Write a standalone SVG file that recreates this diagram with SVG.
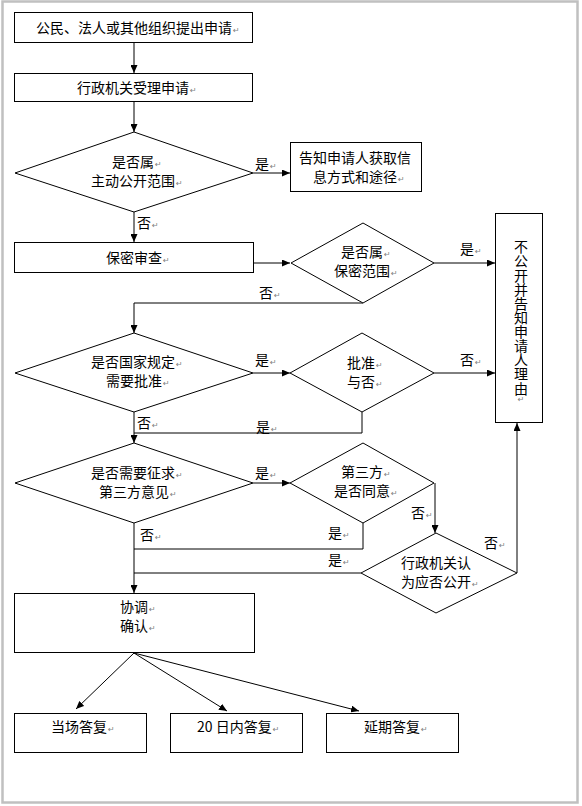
<svg xmlns="http://www.w3.org/2000/svg" width="582" height="806" viewBox="0 0 582 806">
<style>
.t{font-family:"Noto Sans CJK SC","Liberation Sans",sans-serif;font-size:14px;fill:#000}
.m{font-family:"DejaVu Sans",sans-serif;font-size:8px;fill:#808080}
.b{fill:#fff;stroke:#000;stroke-width:1}
.c{fill:none;stroke:#000;stroke-width:1}
.a{marker-end:url(#ah)}
.v{writing-mode:vertical-rl;text-orientation:upright;letter-spacing:0.13px}
</style>
<defs>
<marker id="ah" markerUnits="userSpaceOnUse" markerWidth="8" markerHeight="7" refX="8" refY="3.5" orient="auto">
<path d="M0,0 L8,3.5 L0,7 z" fill="#000"/>
</marker>
</defs>
<rect x="0" y="0" width="582" height="806" fill="#fff"/>
<rect x="2.5" y="1.5" width="575" height="801" fill="none" stroke="#c0c0c0" stroke-width="2.5"/>

<g id="connectors">
<line class="c a" x1="134" y1="42" x2="134" y2="73"/>
<line class="c a" x1="134" y1="102" x2="134" y2="132"/>
<line class="c a" x1="253" y1="173" x2="290" y2="173"/>
<line class="c a" x1="134" y1="212" x2="134" y2="242"/>
<line class="c a" x1="254" y1="263" x2="290" y2="263"/>
<line class="c a" x1="434" y1="263" x2="495" y2="263"/>
<polyline class="c a" points="363,303 134,303 134,333"/>
<line class="c a" x1="253" y1="373" x2="290" y2="373"/>
<line class="c a" x1="434" y1="373" x2="495" y2="373"/>
<polyline class="c" points="362,412 362,433 134,433"/>
<line class="c a" x1="134" y1="412" x2="134" y2="443"/>
<line class="c a" x1="253" y1="483" x2="290" y2="483"/>
<line class="c a" x1="435" y1="483" x2="435" y2="533"/>
<polyline class="c" points="363,523 363,549 134,549"/>
<line class="c" x1="361" y1="573" x2="134" y2="573"/>
<line class="c a" x1="134" y1="523" x2="134" y2="593"/>
<line class="c a" x1="517" y1="573" x2="517" y2="423"/>
<line class="c a" x1="134" y1="653" x2="76" y2="709"/>
<line class="c a" x1="134" y1="653" x2="227" y2="711"/>
<line class="c a" x1="134" y1="653" x2="359" y2="711"/>
</g>

<g id="labels">
<text class="t" x="255" y="169">是<tspan class="m" dx="1">↵</tspan></text>
<text class="t" x="137" y="228">否<tspan class="m" dx="1">↵</tspan></text>
<text class="t" x="460" y="254">是<tspan class="m" dx="1">↵</tspan></text>
<text class="t" x="259" y="298">否<tspan class="m" dx="1">↵</tspan></text>
<text class="t" x="255" y="365">是<tspan class="m" dx="1">↵</tspan></text>
<text class="t" x="460" y="365">否<tspan class="m" dx="1">↵</tspan></text>
<text class="t" x="137" y="428">否<tspan class="m" dx="1">↵</tspan></text>
<text class="t" x="256" y="432">是<tspan class="m" dx="1">↵</tspan></text>
<text class="t" x="255" y="478">是<tspan class="m" dx="1">↵</tspan></text>
<text class="t" x="411" y="518">否<tspan class="m" dx="1">↵</tspan></text>
<text class="t" x="140" y="540">否<tspan class="m" dx="1">↵</tspan></text>
<text class="t" x="328" y="538">是<tspan class="m" dx="1">↵</tspan></text>
<text class="t" x="328" y="565">是<tspan class="m" dx="1">↵</tspan></text>
<text class="t" x="484" y="548">否<tspan class="m" dx="1">↵</tspan></text>
</g>

<g id="n1">
<rect class="b" x="14.5" y="12.5" width="238" height="30"/>
<text class="t" x="36" y="33">公民、法人或其他组织提出申请<tspan class="m" dx="1">↵</tspan></text>
</g>
<g id="n2">
<rect class="b" x="14.5" y="73.5" width="238" height="28"/>
<text class="t" x="77" y="93">行政机关受理申请<tspan class="m" dx="1">↵</tspan></text>
</g>
<g id="n3">
<polygon class="b" points="134,132 253,173 134,212 15,173"/>
<text class="t" x="112" y="167">是否属<tspan class="m" dx="1">↵</tspan><tspan x="91" dy="19">主动公开范围</tspan><tspan class="m" dx="1">↵</tspan></text>
</g>
<g id="n4">
<rect class="b" x="290.5" y="142.5" width="131" height="49"/>
<text class="t" x="299" y="163">告知申请人获取信<tspan x="313" dy="19">息方式和途径</tspan><tspan class="m" dx="1">↵</tspan></text>
</g>
<g id="n5">
<rect class="b" x="14.5" y="242.5" width="239" height="30"/>
<text class="t" x="106" y="263">保密审查<tspan class="m" dx="1">↵</tspan></text>
</g>
<g id="n6">
<polygon class="b" points="363,223 434,263 363,303 291,263"/>
<text class="t" x="341" y="257">是否属<tspan class="m" dx="1">↵</tspan><tspan x="334" dy="19">保密范围</tspan><tspan class="m" dx="1">↵</tspan></text>
</g>
<g id="n7">
<rect class="b" x="495.5" y="213.5" width="47" height="209"/>
<text class="t v" x="521" y="240">不公开并告知申请人理由<tspan class="m">↵</tspan></text>
</g>
<g id="n8">
<polygon class="b" points="134,333 253,373 134,412 15,373"/>
<text class="t" x="91" y="367">是否国家规定<tspan class="m" dx="1">↵</tspan><tspan x="106" dy="19">需要批准</tspan><tspan class="m" dx="1">↵</tspan></text>
</g>
<g id="n9">
<polygon class="b" points="362,333 434,373 362,412 290,373"/>
<text class="t" x="347" y="368">批准<tspan class="m" dx="1">↵</tspan><tspan x="347" dy="19">与否</tspan><tspan class="m" dx="1">↵</tspan></text>
</g>
<g id="n10">
<polygon class="b" points="134,443 253,483 134,523 15,483"/>
<text class="t" x="91" y="478">是否需要征求<tspan class="m" dx="1">↵</tspan><tspan x="99" dy="19">第三方意见</tspan><tspan class="m" dx="1">↵</tspan></text>
</g>
<g id="n11">
<polygon class="b" points="363,443 434,483 363,523 290,483"/>
<text class="t" x="341" y="477">第三方<tspan class="m" dx="1">↵</tspan><tspan x="334" dy="19">是否同意</tspan><tspan class="m" dx="1">↵</tspan></text>
</g>
<g id="n12">
<polygon class="b" points="436,533 517,573 436,613 361,573"/>
<text class="t" x="401" y="568">行政机关认<tspan x="401" dy="19">为应否公开</tspan><tspan class="m" dx="1">↵</tspan></text>
</g>
<g id="n13">
<rect class="b" x="14.5" y="593.5" width="240" height="59"/>
<text class="t" x="120" y="612">协调<tspan class="m" dx="1">↵</tspan><tspan x="120" dy="19">确认</tspan><tspan class="m" dx="1">↵</tspan></text>
</g>
<g id="n14">
<rect class="b" x="14.5" y="713.5" width="132" height="39"/>
<text class="t" x="51" y="732">当场答复<tspan class="m" dx="1">↵</tspan></text>
</g>
<g id="n15">
<rect class="b" x="170.5" y="713.5" width="132" height="39"/>
<text class="t" x="197" y="732">20 日内答复<tspan class="m" dx="1">↵</tspan></text>
</g>
<g id="n16">
<rect class="b" x="326.5" y="713.5" width="132" height="39"/>
<text class="t" x="364" y="732">延期答复<tspan class="m" dx="1">↵</tspan></text>
</g>
</svg>
